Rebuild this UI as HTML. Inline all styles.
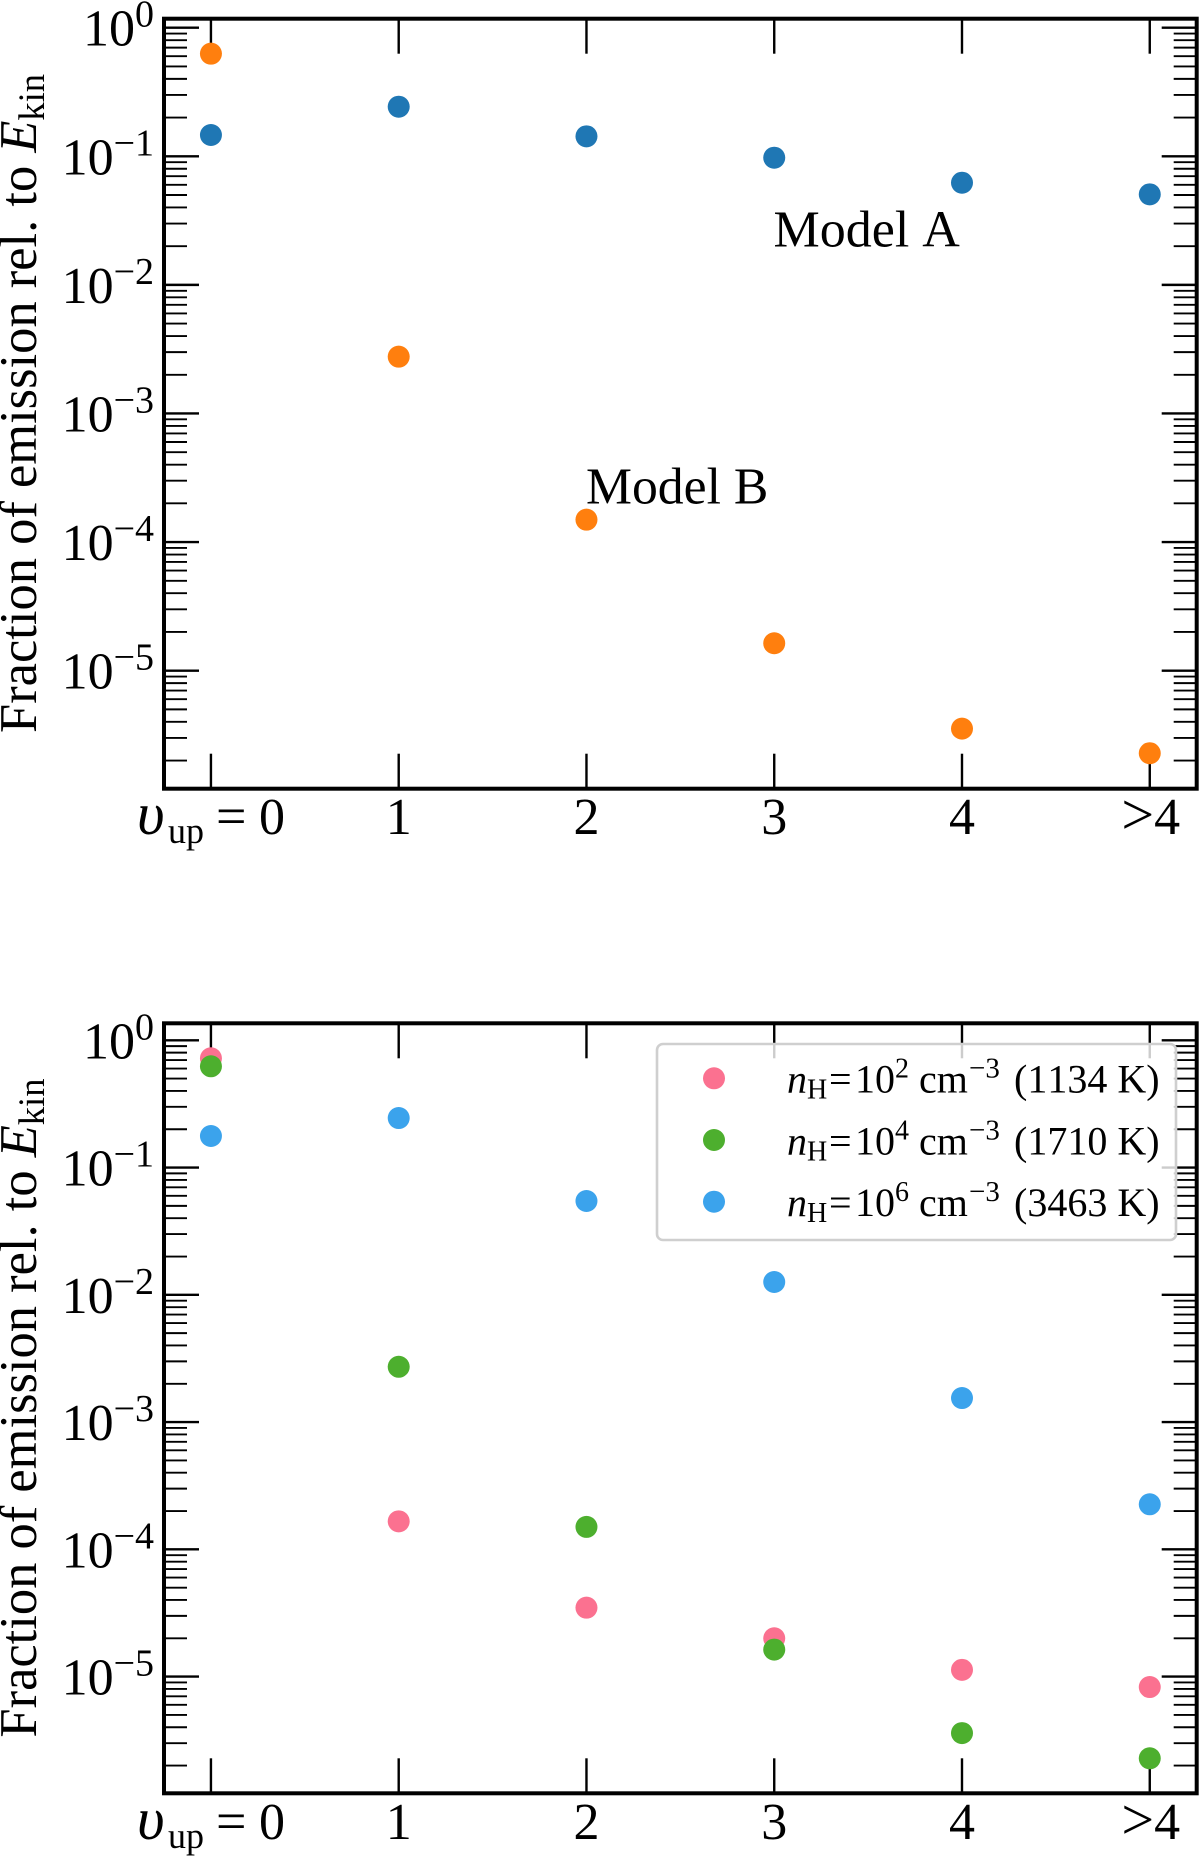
<!DOCTYPE html>
<html lang="en">
<head>
<meta charset="utf-8">
<title>Fraction of emission by vibrational level</title>
<style>
html,body{margin:0;padding:0;background:#fff;}
svg{display:block;font-family:"Liberation Serif",serif;font-kerning:none;}
text{fill:#000;}
</style>
</head>
<body>
<svg id="figure" xmlns="http://www.w3.org/2000/svg" width="1200" height="1856" viewBox="0 0 1200 1856"></svg>
<script>
// ---- data ----
const categories = ['0', '1', '2', '3', '4', '>4'];
const yTickExponents = [0, -1, -2, -3, -4, -5];
const minorMantissas = [2, 3, 4, 5, 6, 7, 8, 9];
const modelA = [0.1464, 0.2430, 0.1430, 0.0975, 0.0623, 0.0506];
const modelB = [0.628, 2.765e-3, 1.493e-4, 1.633e-5, 3.54e-6, 2.28e-6];
const density1e2 = [0.722, 1.66e-4, 3.48e-5, 2.0e-5, 1.13e-5, 8.28e-6];
const density1e4 = [0.625, 2.72e-3, 1.50e-4, 1.63e-5, 3.6e-6, 2.28e-6];
const density1e6 = [0.177, 0.245, 0.0546, 0.01261, 1.545e-3, 2.26e-4];

const SVG_NS = 'http://www.w3.org/2000/svg';
const root = document.getElementById('figure');

function node(parent, tag, attrs) {
  const el = document.createElementNS(SVG_NS, tag);
  for (const k in attrs) el.setAttribute(k, attrs[k]);
  parent.appendChild(el);
  return el;
}

// runs: {t, size, italic, rise, x}; rise is upward baseline shift in px
function richText(el, runs) {
  let prev = 0;
  runs.forEach(function (r) {
    const s = node(el, 'tspan', {'font-size': r.size});
    if (r.italic) s.setAttribute('font-style', 'italic');
    const rise = r.rise || 0;
    if (r.x !== undefined) s.setAttribute('x', r.x);
    s.setAttribute('dy', prev - rise);
    prev = rise;
    s.textContent = r.t;
  });
}

function makePanel(box, prefix) {
  const g = node(root, 'g', {});
  
  

  const xScale = function (i) {
    return box.left + (i - box.xMin) / (box.xMax - box.xMin) * (box.right - box.left);
  };
  const yScale = function (v) {
    return box.top + (box.logTop - Math.log10(v)) / (box.logTop - box.logBottom) * (box.bottom - box.top);
  };

  // ticks
  const ticks = node(g, 'g', {stroke: '#000', fill: 'none'});
  
  
  categories.forEach(function (c, i) {
    const x = xScale(i);
    const b = node(ticks, 'line', {x1: x, x2: x, y1: box.bottom, y2: box.bottom - 35, 'stroke-width': 2.4});
    
    
    const t = node(ticks, 'line', {x1: x, x2: x, y1: box.top, y2: box.top + 35, 'stroke-width': 2.4});
    
    
  });
  const decades = yTickExponents.concat([yTickExponents[yTickExponents.length - 1] - 1]);
  decades.forEach(function (e) {
    const major = Math.pow(10, e);
    if (Math.log10(major) <= box.logTop && Math.log10(major) >= box.logBottom) {
      const y = yScale(major);
      const l = node(ticks, 'line', {x1: box.left, x2: box.left + 35, y1: y, y2: y, 'stroke-width': 2.4});
      
      
      const r = node(ticks, 'line', {x1: box.right, x2: box.right - 35, y1: y, y2: y, 'stroke-width': 2.4});
      
      
    }
    minorMantissas.forEach(function (m) {
      const v = m * major;
      const lg = Math.log10(v);
      if (lg > box.logTop || lg < box.logBottom) return;
      const y = yScale(v);
      const l = node(ticks, 'line', {x1: box.left, x2: box.left + 23, y1: y, y2: y, 'stroke-width': 1.9});
      
      
      const r = node(ticks, 'line', {x1: box.right, x2: box.right - 23, y1: y, y2: y, 'stroke-width': 1.9});
      
      
    });
  });

  // series
  box.series.forEach(function (s) {
    const sg = node(g, 'g', {fill: s.color});
    
    
    s.values.forEach(function (v, i) {
      const c = node(sg, 'circle', {cx: xScale(i), cy: yScale(v), r: 11});
      
      
    });
  });

  // legend (drawn before spines, over ticks)
  if (box.legend) box.legend(g);

  // spines
  const frame = node(g, 'rect', {x: box.left, y: box.top, width: box.right - box.left, height: box.bottom - box.top, fill: 'none', stroke: '#000', 'stroke-width': 4});
  
  

  // y tick labels
  yTickExponents.forEach(function (e) {
    const y = yScale(Math.pow(10, e));
    const t = node(g, 'text', {x: 154, y: y + 18, 'text-anchor': 'end'});
    
    
    richText(t, [
      {t: '10', size: 52},
      {t: (e < 0 ? '\u2212' + (-e) : String(e)), size: 38, rise: 19}
    ]);
  });

  // x tick labels
  categories.forEach(function (c, i) {
    const x = xScale(i);
    const baseY = box.bottom + 45.5;
    if (i === 0) {
      const t = node(g, 'text', {x: 138, y: baseY});
      
      
      richText(t, [
        {t: '\u03c5', size: 60, italic: true, x: 137},
        {t: 'up', size: 36, rise: -9, x: 168},
        {t: '=', size: 54, x: 216},
        {t: c, size: 52, x: 259}
      ]);
    } else if (c.charAt(0) === '>') {
      const t = node(g, 'text', {x: x + 1, y: baseY, 'text-anchor': 'middle'});
      
      
      richText(t, [
        {t: '>', size: 58},
        {t: c.slice(1), size: 52}
      ]);
    } else {
      const t = node(g, 'text', {x: x, y: baseY, 'text-anchor': 'middle', 'font-size': 52});
      
      
      t.textContent = c;
    }
  });

  // y axis title
  const yt = node(g, 'text', {transform: 'translate(36,' + (box.bottom - 55.7) + ') rotate(-90)', x: 0, y: 0});
  
  
  richText(yt, [
    {t: 'Fraction of emission rel. to ', size: 52.5},
    {t: 'E', size: 52.5, italic: true},
    {t: 'kin', size: 36.5, rise: -8}
  ]);
  return g;
}

// ---- top panel ----
const topPanel = makePanel({
  left: 164, right: 1196.7, top: 18.7, bottom: 788.7,
  xMin: -0.25, xMax: 5.25, logTop: 0.07, logBottom: -5.918,
  series: [
    {name: 'model-a', color: '#1f77b4', values: modelA},
    {name: 'model-b', color: '#ff7f0e', values: modelB}
  ]
}, 'top');

const labelA = node(topPanel, 'text', {x: 773.5, y: 246.7, 'font-size': 52});


labelA.textContent = 'Model A';

const labelB = node(topPanel, 'text', {x: 586, y: 503.3, 'font-size': 51.7});


labelB.textContent = 'Model B';

// ---- bottom panel ----
const legendExponents = ['2', '4', '6'];
const legendTemps = ['1134', '1710', '3463'];
const legendColors = ['#fb7190', '#4daf2e', '#3ba3ec'];

makePanel({
  left: 164, right: 1196.7, top: 1023.3, bottom: 1793.3,
  xMin: -0.25, xMax: 5.25, logTop: 0.1336, logBottom: -5.917,
  series: [
    {name: 'density-1e2', color: legendColors[0], values: density1e2},
    {name: 'density-1e4', color: legendColors[1], values: density1e4},
    {name: 'density-1e6', color: legendColors[2], values: density1e6}
  ],
  legend: function (g) {
    const lg = node(g, 'g', {});
    
    
    const bx = node(lg, 'rect', {x: 657, y: 1044, width: 519, height: 196, rx: 6, ry: 6, fill: '#fff', 'fill-opacity': 0.8, stroke: '#cfcfcf', 'stroke-width': 2.6});
    
    
    legendExponents.forEach(function (ex, i) {
      const cy = 1078.3 + i * 61.7;
      const mk = node(lg, 'circle', {cx: 714, cy: cy, r: 11, fill: legendColors[i]});
      
      
      const t = node(lg, 'text', {x: 787, y: cy + 14.4});
      
      
      richText(t, [
        {t: 'n', size: 40, italic: true, x: 787},
        {t: 'H', size: 28, rise: -6, x: 807},
        {t: '=', size: 40, x: 829},
        {t: '10', size: 40, x: 855},
        {t: ex, size: 28, rise: 15, x: 895},
        {t: 'cm', size: 40, x: 919},
        {t: '\u22123', size: 29, rise: 15, x: 969},
        {t: '(' + legendTemps[i] + ' K)', size: 40, x: 1014}
      ]);
    });
  }
}, 'bottom');
</script>
</body>
</html>
